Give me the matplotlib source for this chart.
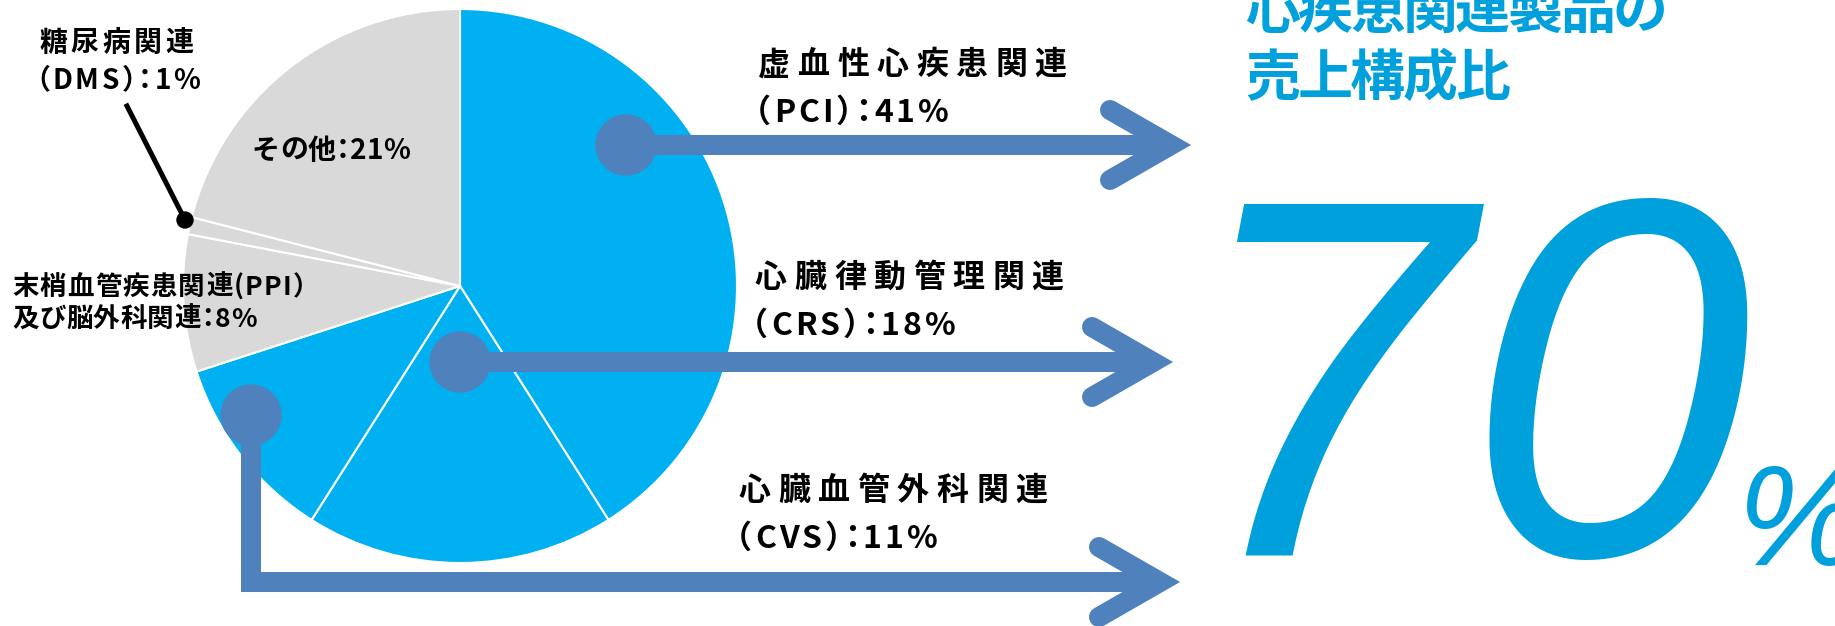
import matplotlib
matplotlib.use("Agg")
import matplotlib.pyplot as plt
from matplotlib.patches import Circle
from matplotlib.font_manager import FontProperties
from matplotlib.textpath import text_to_path

W, H = 1835, 626
DPI = 100

# --- data -------------------------------------------------------------
segments = ["PCI", "CRS", "CVS", "PPI", "DMS", "その他"]
shares = [41, 18, 11, 8, 1, 21]
is_cardiac = [True, True, True, False, False, False]

name_pci = "虚血性心疾患関連"
name_crs = "心臓律動管理関連"
name_cvs = "心臓血管外科関連"
name_ppi = ["末梢血管疾患関連(PPI）", "及び脳外科関連"]
name_dms = "糖尿病関連"
title_lines = ["心疾患関連製品の", "売上構成比"]

BLUE = "#00B0F0"
GRAY = "#D9D9D9"
ARROW = "#4F81BD"
TITLE_BLUE = "#00A0DC"
JP = ["Noto Sans CJK JP", "DejaVu Sans"]
BIG = ["Liberation Sans Narrow", "Liberation Sans", "DejaVu Sans"]

# proportional widths for full-width punctuation: (shift, advance) in em
PALT = {"（": (-0.5, 0.5), "）": (0.0, 0.5), "：": (-0.25, 0.5)}


def pt(v):
    # pixels -> points
    return v * 72 / DPI


def spaced(ax, x, yc, s, em, track=0.0, color="black", palt=True):
    """Draw s char by char (letter spacing); yc is the ink centre in image px."""
    fp = FontProperties(family=JP, weight="bold", size=pt(em))
    base = H - (yc + 0.38 * em)
    for ch in s:
        if palt and ch in PALT:
            shift, adv = PALT[ch]
            ax.text(x + shift * em, base, ch, fontproperties=fp, color=color,
                    ha="left", va="baseline", zorder=6)
            x += adv * em + track
            continue
        ax.text(x, base, ch, fontproperties=fp, color=color,
                ha="left", va="baseline", zorder=6)
        w, _, _ = text_to_path.get_text_width_height_descent(ch, fp, ismath=False)
        x += w * DPI / 72 + track


def connector(ax, path, dot, vx):
    xs = [p[0] for p in path]
    ys = [H - p[1] for p in path]
    ax.plot(xs, ys, color=ARROW, lw=pt(20), solid_capstyle="butt",
            solid_joinstyle="miter", zorder=4)
    ax.add_patch(Circle((dot[0], H - dot[1]), 30, color=ARROW, zorder=5))
    y = H - path[-1][1]
    ax.plot([vx - 61, vx, vx - 61], [y + 35, y, y - 35], color=ARROW,
            lw=pt(20), solid_capstyle="round", solid_joinstyle="miter", zorder=4)


fig = plt.figure(figsize=(W / DPI, H / DPI), dpi=DPI)
ax = fig.add_axes([0, 0, 1, 1])

colors = [BLUE if c else GRAY for c in is_cardiac]
ax.pie(shares, colors=colors, startangle=90, counterclock=False,
       center=(460, H - 286), radius=277,
       wedgeprops=dict(edgecolor="white", linewidth=1.5))
ax.set_xlim(0, W)
ax.set_ylim(0, H)
ax.set_aspect("equal")
ax.axis("off")

# arrows from the cardiac slices
connector(ax, [(626, 145), (1171, 145)], (626, 145), 1171)
connector(ax, [(460, 362), (1153, 362)], (460, 362), 1153)
connector(ax, [(251, 415), (251, 582), (1160, 582)], (251, 415), 1160)

# leader for the 1% slice
ax.plot([127, 185], [H - 106, H - 220], color="black", lw=pt(5), zorder=4)
ax.add_patch(Circle((185, H - 220), 8, color="black", zorder=5))

# labels
spaced(ax, 758, 62, name_pci, 32, track=7.5)
spaced(ax, 755, 110, f"（{segments[0]}）：{shares[0]}%", 32, track=3)
spaced(ax, 755, 275, name_crs, 32, track=7.5)
spaced(ax, 752, 323, f"（{segments[1]}）：{shares[1]}%", 32, track=3)
spaced(ax, 739, 488, name_cvs, 32, track=7.5)
spaced(ax, 736, 536, f"（{segments[2]}）：{shares[2]}%", 32, track=3)

spaced(ax, 39, 40, name_dms, 28, track=3.5)
spaced(ax, 36, 78, f"（{segments[4]}）：{shares[4]}%", 28, track=2.5)
spaced(ax, 12, 285, name_ppi[0], 26.5, track=1.2, palt=False)
spaced(ax, 12, 317, f"{name_ppi[1]}：{shares[3]}%", 26.5, track=0.5)
spaced(ax, 252, 148, f"{segments[5]}：{shares[5]}%", 28)

# headline
spaced(ax, 1245, 7, title_lines[0], 55, track=-2.5, color=TITLE_BLUE)
spaced(ax, 1245, 74, title_lines[1], 55, track=-2.5, color=TITLE_BLUE)

total = sum(s for s, c in zip(shares, is_cardiac) if c)
ax.text(1183, H - 555, str(total), family=BIG, style="italic",
        fontsize=368, color=TITLE_BLUE, ha="left", va="baseline")
ax.text(1737, H - 565, "%", family=BIG[1:], style="italic",
        fontsize=102, color=TITLE_BLUE, ha="left", va="baseline")

fig.savefig("out.png", dpi=DPI)
